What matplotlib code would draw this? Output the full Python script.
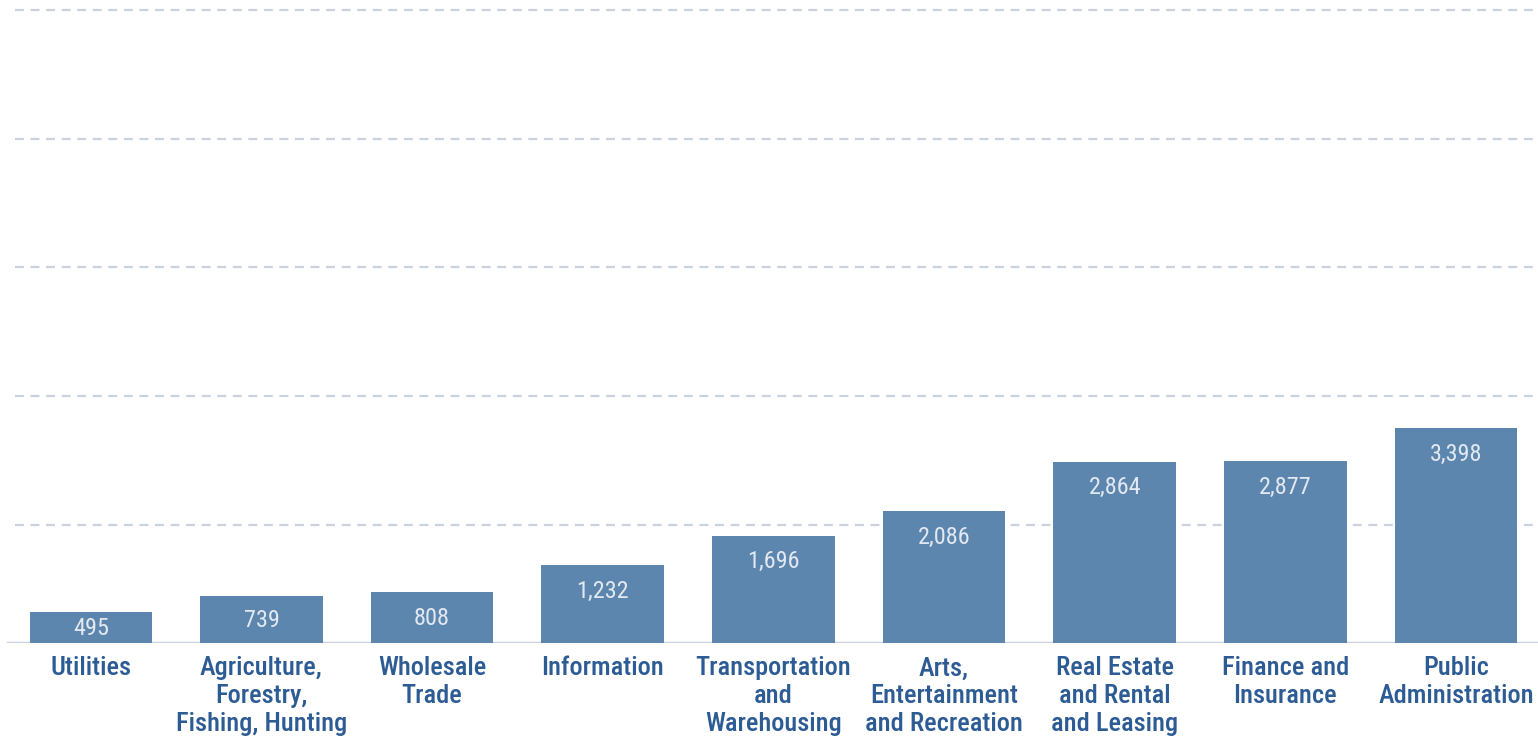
import matplotlib
matplotlib.use("Agg")
import matplotlib.pyplot as plt
from matplotlib import font_manager

categories = ["Utilities", "Agriculture,\nForestry,\nFishing, Hunting", "Wholesale\nTrade",
              "Information", "Transportation\nand\nWarehousing", "Arts,\nEntertainment\nand Recreation",
              "Real Estate\nand Rental\nand Leasing", "Finance and\nInsurance", "Public\nAdministration"]
values = [495, 739, 808, 1232, 1696, 2086, 2864, 2877, 3398]
value_labels = ["495", "739", "808", "1,232", "1,696", "2,086", "2,864", "2,877", "3,398"]
grid_values = [1870, 3900, 5930, 7960, 9990]

names = {f.name for f in font_manager.fontManager.ttflist}
prefs = ["Roboto Condensed", "Archivo Narrow", "PT Sans Narrow", "IBM Plex Sans Condensed",
         "Liberation Sans Narrow", "Sofia Sans Condensed", "Asap Condensed", "Barlow Condensed",
         "Open Sans Condensed", "DejaVu Sans"]
fam = next(p for p in prefs if p in names)

W, H = 1538, 737
fig = plt.figure(figsize=(W / 100, H / 100), dpi=100)
base_px = 643.3
ax = fig.add_axes([0, (H - base_px) / H, 1, base_px / H])
ppu = 0.0634  # pixels per unit
ax.set_ylim(0, base_px / ppu)
x0, sp = 90.8, 170.65
ax.set_xlim(-x0 / sp, (W - x0) / sp)

bar_color = "#5d86ae"
xs = list(range(len(values)))
for gv in grid_values:
    ax.axhline(gv, color="#c9d2dd", lw=1.6, ls=(0, (4, 3)), zorder=0, xmin=15 / W)
ax.axhline(0, color="#c9d3df", lw=2.5, zorder=1, xmin=8 / W)
ax.bar(xs, values, width=0.718, color=bar_color, zorder=2)

for x, v, lab in zip(xs, values, value_labels):
    h_px = v * ppu
    off = min(25, h_px / 2)
    ax.annotate(lab, (x, v), xytext=(0, -off * 0.72 - 0.8), textcoords="offset points",
                ha="center", va="center", color="#e2e9f2", fontsize=17.5, fontweight="normal",
                family=fam, zorder=3)

ax.set_xticks(xs)
ax.set_xticklabels(categories, family=fam, fontsize=19, fontweight="medium", color="#2d5c95",
                   linespacing=1.19, va="top")
ax.tick_params(axis="x", length=0, pad=9.5)
ax.tick_params(axis="y", left=False, labelleft=False)
for s in ax.spines.values():
    s.set_visible(False)

fig.savefig("out.png", dpi=100)
